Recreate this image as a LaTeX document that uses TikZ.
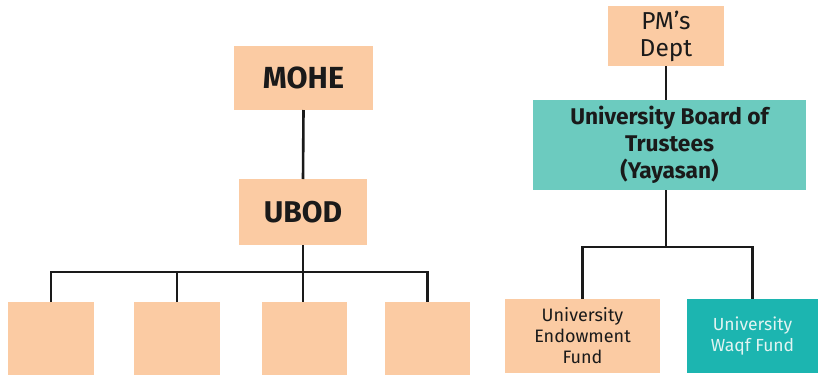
\documentclass[tikz,border=0pt]{standalone}
\usepackage{fontspec}
\setmainfont{Fira Sans}
\definecolor{peach}{HTML}{FBCBA3}
\definecolor{teal1}{HTML}{6CCBBF}
\definecolor{teal2}{HTML}{1CB5B0}
\definecolor{ink}{HTML}{1A1A1A}
\definecolor{pale}{HTML}{E2F4F2}
\begin{document}
\begin{tikzpicture}[x=1pt,y=-1pt,
  box/.style={inner sep=0pt, outer sep=0pt, align=center, text=ink},
  pbox/.style={box, fill=peach},
  conn/.style={line width=2.6pt, draw=ink}]
\useasboundingbox (0,0) rectangle (818,375);
% left tree
\node[pbox, minimum width=139pt, minimum height=64pt, font=\fontsize{30.5}{33}\selectfont\bfseries] (mohe) at (303.5,78) {MOHE};
\node[pbox, minimum width=128pt, minimum height=66pt, font=\fontsize{30}{33}\selectfont\bfseries] (ubod) at (303,212) {UBOD};
\node[pbox, minimum width=86pt, minimum height=73pt] (b1) at (51,338.5) {};
\node[pbox, minimum width=86pt, minimum height=73pt] (b2) at (177,338.5) {};
\node[pbox, minimum width=85pt, minimum height=73pt] (b3) at (304,338.5) {};
\node[pbox, minimum width=85pt, minimum height=73pt] (b4) at (427.5,338.5) {};
\coordinate (barL) at (0,272);
\draw[conn] (mohe.south) -- (ubod.north);
\draw[conn] (b1.north) |- (barL -| b4.north) -- (b4.north);
\draw[conn] (b2.north) -- (b2.north |- barL);
\draw[conn] (ubod.south) -- (ubod.south |- b3.north);
% right tree
\node[pbox, minimum width=116pt, minimum height=60pt, font=\fontsize{24.5}{27}\selectfont] (pm) at (666,36) {PM’s\\Dept};
\node[box, fill=teal1, minimum width=273pt, minimum height=90pt, font=\fontsize{22.7}{27}\selectfont\bfseries] (ubt) at (669.5,145) {University Board of\\Trustees\\(Yayasan)};
\node[pbox, minimum width=155pt, minimum height=74pt, font=\fontsize{18}{21}\selectfont] (endow) at (582.5,336) {University\\Endowment\\Fund};
\node[box, fill=teal2, text=pale, minimum width=131pt, minimum height=74pt, font=\fontsize{17.5}{20.5}\selectfont] (waqf) at (752.5,336) {University\\Waqf Fund};
\coordinate (barR) at (0,247);
\draw[conn] (pm.south) -- (pm.south |- ubt.north);
\draw[conn] (ubt.south -| pm.south) -- (barR -| pm.south);
\draw[conn] (endow.north) |- (barR -| waqf.north) -- (waqf.north);
\end{tikzpicture}
\end{document}
